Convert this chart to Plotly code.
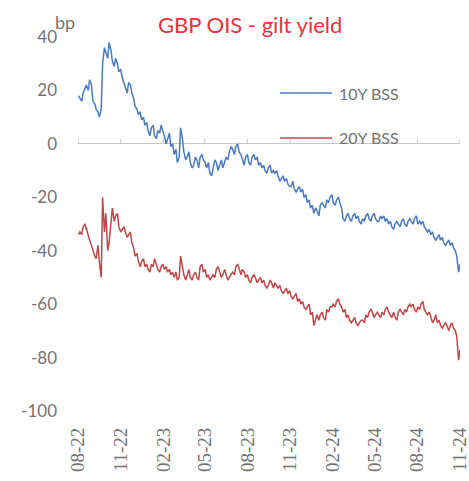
import pandas as pd
import plotly.graph_objects as go

# Twice-weekly observations (Tuesdays and Fridays), Aug 2022 - Nov 2024
tue_dates = pd.date_range("2022-08-16", "2024-11-12", freq="W-TUE")
fri_dates = pd.date_range("2022-08-19", "2024-11-15", freq="W-FRI")

bss_10y_tue = [18, 16, 21, 20, 22, 15, 12, 13, 36, 32,
               35, 29, 30, 28, 23, 19, 22, 17, 13, 12,
               10, 8, 3, 7, 2, 4, 5, 0, 4, 0,
               -2, -5, 2, -6, -3, -9, -5, -9, -4, -7,
               -7, -12, -6, -10, -6, -7, -6, -1, -4, 0,
               -4, -8, -4, -8, -4, -5, -7, -8, -11, -8,
               -10, -10, -14, -12, -13, -16, -14, -18, -16, -17,
               -19, -21, -23, -24, -27, -22, -24, -22, -19, -23,
               -20, -24, -29, -26, -29, -26, -27, -30, -29, -26,
               -29, -26, -29, -27, -27, -28, -29, -32, -29, -31,
               -28, -31, -28, -30, -27, -29, -29, -32, -32, -33,
               -36, -34, -35, -38, -36, -37, -40, -48]
bss_10y_fri = [17, 19, 22, 24, 16, 13, 10, 30, 34, 38,
               31, 32, 27, 25, 21, 23, 19, 14, 11, 9,
               7, 5, 6, 3, 5, 7, 3, 2, -1, -4,
               -7, 6, -3, -5, -7, -8, -6, -5, -6, -9,
               -11, -9, -7, -8, -9, -5, -3, -2, -1, -3,
               -6, -5, -7, -5, -6, -8, -9, -10, -9, -11,
               -11, -12, -13, -14, -15, -16, -17, -17, -18, -20,
               -22, -24, -26, -25, -23, -23, -21, -20, -22, -21,
               -22, -28, -27, -28, -27, -28, -29, -28, -27, -28,
               -27, -28, -29, -28, -29, -30, -31, -30, -30, -29,
               -30, -29, -29, -28, -30, -30, -31, -33, -34, -35,
               -35, -36, -37, -37, -38, -39, -42, -45]

bss_20y_tue = [-34, -34, -30, -35, -38, -42, -38, -50, -33, -40,
               -30, -29, -26, -33, -31, -35, -33, -39, -41, -46,
               -43, -45, -48, -46, -45, -48, -45, -46, -47, -48,
               -48, -50, -46, -51, -47, -51, -48, -51, -45, -47,
               -49, -50, -50, -46, -50, -47, -51, -49, -49, -45,
               -49, -48, -49, -52, -49, -52, -50, -51, -54, -51,
               -54, -53, -53, -56, -54, -55, -58, -56, -58, -59,
               -62, -60, -63, -66, -66, -63, -66, -63, -61, -61,
               -58, -61, -62, -64, -67, -65, -68, -66, -67, -65,
               -62, -65, -63, -65, -64, -61, -64, -63, -66, -62,
               -64, -63, -60, -60, -63, -62, -59, -63, -63, -67,
               -64, -66, -69, -67, -70, -67, -70, -81]
bss_20y_fri = [-33, -31, -32, -36, -40, -43, -44, -20, -26, -37,
               -24, -27, -31, -32, -33, -34, -37, -42, -44, -44,
               -46, -47, -45, -43, -47, -46, -47, -48, -49, -50,
               -51, -42, -49, -49, -50, -49, -50, -46, -48, -50,
               -51, -49, -47, -48, -49, -49, -50, -48, -46, -47,
               -47, -50, -51, -50, -50, -51, -52, -53, -53, -52,
               -52, -54, -55, -55, -56, -57, -57, -59, -60, -61,
               -61, -64, -68, -64, -64, -65, -62, -61, -60, -59,
               -60, -63, -65, -66, -66, -67, -67, -66, -64, -63,
               -63, -64, -64, -63, -62, -63, -65, -65, -63, -63,
               -62, -61, -61, -62, -61, -60, -62, -64, -65, -66,
               -67, -68, -68, -68, -68, -69, -72, -77]

tick_dates = ["2022-08-15", "2022-11-15", "2023-02-15", "2023-05-15", "2023-08-15",
              "2023-11-15", "2024-02-15", "2024-05-15", "2024-08-15", "2024-11-15"]
tick_labels = ["08-22", "11-22", "02-23", "05-23", "08-23",
               "11-23", "02-24", "05-24", "08-24", "11-24"]
y_ticks = [40, 20, 0, -20, -40, -60, -80, -100]
y_tick_labels = ["40", "20", "0", "-20", "-40", "-60", "-80", "-100"]

series_names = ["10Y BSS", "20Y BSS"]
series_colors = ["#4A7BC0", "#C0474A"]


def interleave(a_dates, a_vals, b_dates, b_vals):
    xs, ys = [], []
    for da, va, db, vb in zip(a_dates, a_vals, b_dates, b_vals):
        xs += [da, db]
        ys += [va, vb]
    return xs, ys


x10, y10 = interleave(tue_dates, bss_10y_tue, fri_dates, bss_10y_fri)
x20, y20 = interleave(tue_dates, bss_20y_tue, fri_dates, bss_20y_fri)

SANS = "Lato"
SERIF = "Liberation Serif"
GREY = "#737373"

fig = go.Figure()
fig.add_trace(go.Scatter(x=x10, y=y10, mode="lines", name=series_names[0],
                         line=dict(color=series_colors[0], width=1.5)))
fig.add_trace(go.Scatter(x=x20, y=y20, mode="lines", name=series_names[1],
                         line=dict(color=series_colors[1], width=1.5)))

# small tick marks on the zero line (horizontal axis crossing at 0)
for d in tick_dates:
    fig.add_shape(type="line", xref="x", yref="y", x0=d, x1=d, y0=0, y1=2,
                  line=dict(color="#c8c8c8", width=1))

# legend drawn as in the original (line sample + label)
legend_y = [0.850, 0.730]
annotations = []
for name, col, ly in zip(series_names, series_colors, legend_y):
    fig.add_shape(type="line", xref="paper", yref="paper", x0=0.529, x1=0.665,
                  y0=ly, y1=ly, line=dict(color=col, width=1.5))
    annotations.append(dict(text=name, xref="paper", yref="paper", x=0.678, y=ly,
                            xanchor="left", yanchor="middle", showarrow=False,
                            font=dict(family=SANS, size=16, color=GREY)))

annotations += [
    dict(text="GBP OIS - gilt yield", xref="paper", yref="paper",
         x=0.45, y=1.0, yshift=13, xanchor="center", yanchor="middle",
         showarrow=False, font=dict(family=SANS, size=22, color="#E8323C")),
    dict(text="bp", xref="paper", yref="paper", x=0, y=1.0, xshift=-13, yshift=15,
         xanchor="center", yanchor="middle", showarrow=False,
         font=dict(family=SANS, size=18, color=GREY)),
]

fig.update_layout(
    width=469, height=481,
    margin=dict(l=78, r=9, t=37, b=70),
    paper_bgcolor="white", plot_bgcolor="white",
    font=dict(family=SANS, size=16, color=GREY),
    showlegend=False,
    annotations=annotations,
)

fig.update_xaxes(range=["2022-08-15", "2024-11-15"], tickvals=tick_dates, ticktext=tick_labels,
                 tickangle=-90, showgrid=False, showline=False, zeroline=False,
                 ticks="", ticklabelstandoff=12, automargin=False,
                 ticklabeloverflow="allow",
                 tickfont=dict(family=SERIF, size=19, color=GREY))
fig.update_yaxes(range=[-100, 40], tickvals=y_ticks, ticktext=y_tick_labels,
                 showgrid=False, showline=False,
                 zeroline=True, zerolinecolor="#c8c8c8", zerolinewidth=1,
                 ticks="", ticklabelstandoff=20, automargin=False,
                 ticklabeloverflow="allow",
                 tickfont=dict(family=SANS, size=17, color=GREY))

fig.write_html("out.html")
